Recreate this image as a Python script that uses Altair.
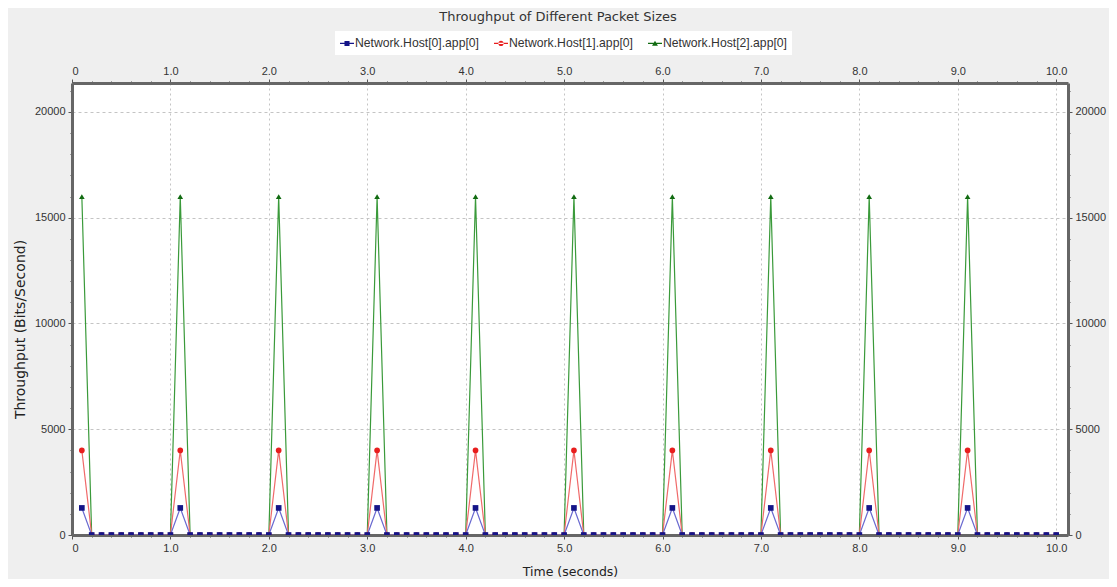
import altair as alt
import pandas as pd

# ---- data ----
time_s = [
    0.1, 0.2, 0.3, 0.4, 0.5, 0.6, 0.7, 0.8, 0.9, 1.0,
    1.1, 1.2, 1.3, 1.4, 1.5, 1.6, 1.7, 1.8, 1.9, 2.0,
    2.1, 2.2, 2.3, 2.4, 2.5, 2.6, 2.7, 2.8, 2.9, 3.0,
    3.1, 3.2, 3.3, 3.4, 3.5, 3.6, 3.7, 3.8, 3.9, 4.0,
    4.1, 4.2, 4.3, 4.4, 4.5, 4.6, 4.7, 4.8, 4.9, 5.0,
    5.1, 5.2, 5.3, 5.4, 5.5, 5.6, 5.7, 5.8, 5.9, 6.0,
    6.1, 6.2, 6.3, 6.4, 6.5, 6.6, 6.7, 6.8, 6.9, 7.0,
    7.1, 7.2, 7.3, 7.4, 7.5, 7.6, 7.7, 7.8, 7.9, 8.0,
    8.1, 8.2, 8.3, 8.4, 8.5, 8.6, 8.7, 8.8, 8.9, 9.0,
    9.1, 9.2, 9.3, 9.4, 9.5, 9.6, 9.7, 9.8, 9.9, 10.0,
]
host0 = [
    1280, 0, 0, 0, 0, 0, 0, 0, 0, 0,
    1280, 0, 0, 0, 0, 0, 0, 0, 0, 0,
    1280, 0, 0, 0, 0, 0, 0, 0, 0, 0,
    1280, 0, 0, 0, 0, 0, 0, 0, 0, 0,
    1280, 0, 0, 0, 0, 0, 0, 0, 0, 0,
    1280, 0, 0, 0, 0, 0, 0, 0, 0, 0,
    1280, 0, 0, 0, 0, 0, 0, 0, 0, 0,
    1280, 0, 0, 0, 0, 0, 0, 0, 0, 0,
    1280, 0, 0, 0, 0, 0, 0, 0, 0, 0,
    1280, 0, 0, 0, 0, 0, 0, 0, 0, 0,
]
host1 = [
    4000, 0, 0, 0, 0, 0, 0, 0, 0, 0,
    4000, 0, 0, 0, 0, 0, 0, 0, 0, 0,
    4000, 0, 0, 0, 0, 0, 0, 0, 0, 0,
    4000, 0, 0, 0, 0, 0, 0, 0, 0, 0,
    4000, 0, 0, 0, 0, 0, 0, 0, 0, 0,
    4000, 0, 0, 0, 0, 0, 0, 0, 0, 0,
    4000, 0, 0, 0, 0, 0, 0, 0, 0, 0,
    4000, 0, 0, 0, 0, 0, 0, 0, 0, 0,
    4000, 0, 0, 0, 0, 0, 0, 0, 0, 0,
    4000, 0, 0, 0, 0, 0, 0, 0, 0, 0,
]
host2 = [
    16000, 0, 0, 0, 0, 0, 0, 0, 0, 0,
    16000, 0, 0, 0, 0, 0, 0, 0, 0, 0,
    16000, 0, 0, 0, 0, 0, 0, 0, 0, 0,
    16000, 0, 0, 0, 0, 0, 0, 0, 0, 0,
    16000, 0, 0, 0, 0, 0, 0, 0, 0, 0,
    16000, 0, 0, 0, 0, 0, 0, 0, 0, 0,
    16000, 0, 0, 0, 0, 0, 0, 0, 0, 0,
    16000, 0, 0, 0, 0, 0, 0, 0, 0, 0,
    16000, 0, 0, 0, 0, 0, 0, 0, 0, 0,
    16000, 0, 0, 0, 0, 0, 0, 0, 0, 0,
]
series_names = ["Network.Host[0].app[0]", "Network.Host[1].app[0]", "Network.Host[2].app[0]"]
marker_colors = ["#141488", "#e81e1e", "#116b11"]
line_colors = ["#6a6ad0", "#f06a6a", "#3a9a3a"]
marker_shapes = ["square", "circle", "triangle-up"]
legend_shapes = [
    "M-1,-0.08H1V0.08H-1Z M-0.36,-0.36H0.36V0.36H-0.36Z",
    "M-1,-0.08H1V0.08H-1Z M-0.38,0A0.38,0.38 0 1,0 0.38,0A0.38,0.38 0 1,0 -0.38,0Z",
    "M-1,-0.08H1V0.08H-1Z M-0.42,0.34L0,-0.38L0.42,0.34Z",
]
x_ticks = [round(i * 0.2, 1) for i in range(51)]
y_ticks = [i * 1000 for i in range(22)]

rows = []
for name, vals in [(series_names[2], host2), (series_names[1], host1), (series_names[0], host0)]:
    for t, v in zip(time_s, vals):
        rows.append({"time": t, "value": v, "series": name})
df = pd.DataFrame(rows)

FONT = "Liberation Sans"
TFONT = "DejaVu Sans"
xs = alt.Scale(domain=[0, 10.12], nice=False, zero=False)
ys = alt.Scale(domain=[0, 21370], nice=False, zero=False)

x_major = "abs(datum.value - round(datum.value)) < 0.001"
x_label = f"{x_major} ? (datum.value == 0 ? '0' : format(datum.value, '.1f')) : ''"
y_major = "datum.value % 5000 == 0"
y_label = f"{y_major} ? format(datum.value, 'd') : ''"

axis_style = dict(
    domainColor="#666666", domainWidth=3, tickColor="#555555", tickWidth=1,
    labelColor="#333333", labelFont=FONT, labelFontSize=11,
    titleFont=TFONT, titleFontWeight="normal", titleColor="#222222",
)

x_bottom = alt.Axis(
    orient="bottom", values=x_ticks, labelExpr=x_label, title="Time (seconds)",
    tickSize={"condition": {"test": x_major, "value": 4}, "value": 2},
    grid=True, gridColor="#c4c4c4", gridDash=[2, 3],
    gridOpacity={"condition": {"test": x_major, "value": 1}, "value": 0},
    labelPadding=3, titlePadding=12, titleFontSize=12.5, **axis_style,
)
y_left = alt.Axis(
    orient="left", values=y_ticks, labelExpr=y_label, title="Throughput (Bits/Second)",
    tickSize={"condition": {"test": y_major, "value": 4}, "value": 2},
    grid=True, gridColor="#c4c4c4", gridDash=[3, 3],
    gridOpacity={"condition": {"test": y_major, "value": 1}, "value": 0},
    labelPadding=3, titlePadding=7, titleY=246, titleFontSize=14, **axis_style,
)
x_top = alt.Axis(
    orient="top", values=x_ticks, labelExpr=x_label, title=None, grid=False,
    tickSize={"condition": {"test": x_major, "value": 4}, "value": 2},
    labelPadding=3, **axis_style,
)
y_right = alt.Axis(
    orient="right", values=y_ticks, labelExpr=y_label, title=None, grid=False,
    tickSize={"condition": {"test": y_major, "value": 4}, "value": 2},
    labelPadding=3, **axis_style,
)

base = alt.Chart(df)

lines = base.mark_line(strokeWidth=1.2, clip=True).encode(
    x=alt.X("time:Q", scale=xs, axis=x_bottom),
    y=alt.Y("value:Q", scale=ys, axis=y_left),
    color=alt.Color("series:N", scale=alt.Scale(domain=series_names, range=line_colors), legend=None),
    detail="series:N",
)

points = base.mark_point(filled=True, size=32, opacity=1, clip=True).encode(
    x=alt.X("time:Q", scale=xs, axis=None),
    y=alt.Y("value:Q", scale=ys, axis=None),
    color=alt.Color("series:N", scale=alt.Scale(domain=series_names, range=marker_colors), legend=None),
    shape=alt.Shape("series:N", scale=alt.Scale(domain=series_names, range=marker_shapes), legend=None),
)

legend_kw = dict(
    orient="none", legendX=263, legendY=-52, direction="horizontal", columns=3,
    title=None, fillColor="white", padding=5, columnPadding=15,
    symbolSize=196, labelFont=FONT, labelFontSize=12.2, labelColor="#333333",
    labelOffset=1, symbolStrokeWidth=0,
)
legend_layer = base.transform_filter("false").mark_point(filled=True, opacity=1).encode(
    x=alt.X("time:Q", scale=xs, axis=x_top),
    y=alt.Y("value:Q", scale=ys, axis=y_right),
    color=alt.Color("lg:N", scale=alt.Scale(domain=series_names, range=marker_colors), legend=alt.Legend(**legend_kw)),
    shape=alt.Shape("lg:N", scale=alt.Scale(domain=series_names, range=legend_shapes), legend=alt.Legend(**legend_kw)),
).transform_calculate(lg="datum.series")

chart = alt.layer(lines, points, legend_layer).resolve_scale(
    color="independent", shape="independent"
).resolve_axis(
    x="independent", y="independent"
).properties(
    width=996, height=452,
    autosize=alt.AutoSizeParams(type="none"),
    padding={"left": 64, "top": 75, "right": 41, "bottom": 44},
    background="#efefef",
    title=alt.TitleParams(
        "Throughput of Different Packet Sizes", anchor="middle", dx=-12, offset=7,
        font=TFONT, fontSize=13, fontWeight="normal", color="#333333",
    ),
).configure_view(
    fill="white", stroke=None,
)

chart.save("out.html", embed_options={"renderer": "svg", "actions": False})
